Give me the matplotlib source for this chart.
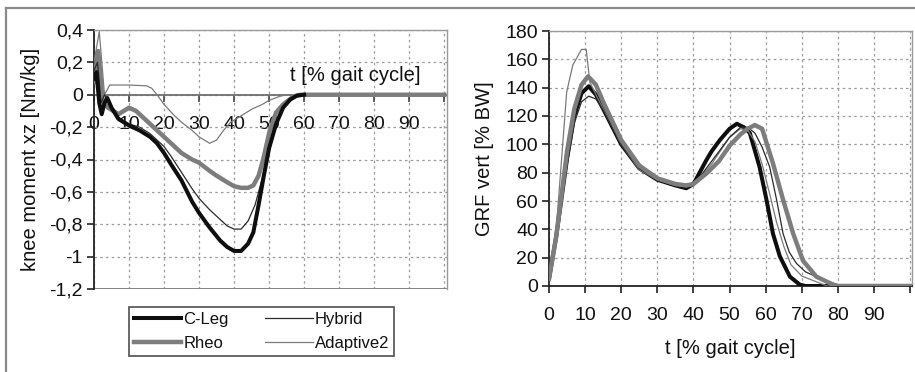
import matplotlib
matplotlib.use("Agg")
import matplotlib.pyplot as plt
from matplotlib.lines import Line2D
from matplotlib.ticker import FixedLocator

plt.rcParams['font.family'] = ['Liberation Sans', 'DejaVu Sans']

# ---------------- data: knee moment ----------------
t_cleg_knee = [0, 0.7, 1.5, 2.2, 3, 3.8, 5, 7, 10, 13, 16, 18, 20, 22, 25, 28, 30, 33, 36, 38,
               40, 42, 44, 45.5, 47, 48.5, 50, 52, 54, 56, 58, 60]
v_cleg_knee = [0.10, 0.14, -0.05, -0.12, -0.05, -0.02, -0.08, -0.15, -0.19, -0.22, -0.26, -0.30,
               -0.36, -0.43, -0.53, -0.66, -0.73, -0.82, -0.90, -0.94, -0.965, -0.965, -0.92,
               -0.85, -0.68, -0.50, -0.33, -0.18, -0.08, -0.03, -0.005, 0]

t_hyb_knee = [0, 1, 2, 3, 5, 7, 10, 13, 16, 20, 22, 25, 28, 30, 33, 36, 38, 40, 42, 44, 46, 48,
              50, 52, 54, 56, 58, 60]
v_hyb_knee = [0.15, 0.2, -0.05, 0.0, -0.08, -0.14, -0.18, -0.20, -0.24, -0.32, -0.38, -0.48,
              -0.58, -0.64, -0.71, -0.77, -0.81, -0.83, -0.83, -0.78, -0.68, -0.52, -0.33,
              -0.18, -0.08, -0.03, -0.01, 0]

t_rheo_knee = [0, 1.2, 2.5, 4, 7, 10, 12, 15, 18, 20, 22, 25, 28, 30, 33, 35, 38, 40, 42, 44,
               45.5, 47, 48.3, 50.2, 52, 54, 57, 59, 100]
v_rheo_knee = [0.08, 0.27, -0.04, -0.08, -0.12, -0.08, -0.10, -0.16, -0.22, -0.26, -0.30,
               -0.36, -0.40, -0.42, -0.47, -0.50, -0.54, -0.565, -0.575, -0.575, -0.56,
               -0.50, -0.40, -0.22, -0.11, -0.06, -0.01, 0, 0]

t_ad2_knee = [0, 1.5, 3, 4.5, 10, 15, 16.5, 18, 20, 23, 25, 28, 30, 33, 35, 37, 39, 42, 45, 48,
              50, 53, 55]
v_ad2_knee = [0.2, 0.39, 0.0, 0.06, 0.06, 0.055, 0.04, 0.0, -0.06, -0.13, -0.17, -0.22, -0.26,
              -0.30, -0.28, -0.22, -0.17, -0.13, -0.09, -0.06, -0.035, -0.01, 0]

# ---------------- data: vertical GRF ----------------
t_cleg_grf = [0, 2, 5, 7, 9, 11, 13, 15, 20, 25, 30, 35, 38, 40, 43.6, 45, 47.3, 50, 52, 54,
              55.6, 58.3, 60.2, 62, 63.9, 66.7, 69.4, 71, 100]
v_cleg_grf = [5, 35, 90, 120, 136, 141, 135, 125, 100, 83, 75, 71, 69, 72, 89, 95, 103, 111,
              114.5, 112, 108, 84, 61, 37, 21, 6.6, 1, 0, 0]

t_hyb_grf = [0, 2, 5, 7, 9, 11, 13, 15, 20, 25, 30, 35, 38, 40, 45, 50, 53, 55, 57, 59, 61.1,
             63, 64.8, 66.5, 68.5, 71, 74, 78.6, 81, 100]
v_hyb_grf = [5, 33, 85, 115, 130, 134, 132, 124, 100, 83, 75, 71, 70, 71, 88, 105, 112, 112,
             108, 98, 84, 61, 37, 24, 16, 10, 6.6, 2, 0, 0]

t_rheo_grf = [0, 2, 5, 7, 9, 10.8, 13, 15, 20, 25, 30, 35, 38, 40, 43.6, 47, 50, 53, 55, 57,
              59, 62, 64.8, 67.6, 70.3, 74, 78.6, 80, 100]
v_rheo_grf = [5, 35, 95, 125, 142, 148, 142, 130, 103, 85, 76, 72, 71, 72, 79.5, 88, 99, 107,
              111, 113.6, 111, 86.6, 61, 37, 18, 6.6, 1, 0, 0]

t_ad2_grf = [0, 2, 4.9, 6.6, 9, 10.3, 11.3, 13, 15, 20, 25, 30, 35, 38, 40, 45, 50, 53, 55, 57,
             59, 61, 63, 65, 67, 70, 74, 77, 100]
v_ad2_grf = [5, 40, 137, 156, 167, 167, 144, 135, 125, 100, 82, 75, 71, 70, 71, 86, 105, 111,
             110, 102, 86, 66, 45, 28, 15, 7, 3, 0, 0]

series_names = ['C-Leg', 'Rheo', 'Hybrid', 'Adaptive2']
x_ticks = [0, 10, 20, 30, 40, 50, 60, 70, 80, 90, 100]
x_ticklabels = ['0', '10', '20', '30', '40', '50', '60', '70', '80', '90', '']
knee_ticks = [-1.2, -1.0, -0.8, -0.6, -0.4, -0.2, 0.0, 0.2, 0.4]
knee_ticklabels = ['-1,2', '-1', '-0,8', '-0,6', '-0,4', '-0,2', '0', '0,2', '0,4']
grf_ticks = [0, 20, 40, 60, 80, 100, 120, 140, 160, 180]

styles = {
    'C-Leg': dict(color='#0e0e0e', lw=2.9),
    'Rheo': dict(color='#7d7d7d', lw=3.2),
    'Hybrid': dict(color='#2a2a2a', lw=0.9),
    'Adaptive2': dict(color='#7a7a7a', lw=0.9),
}

TXT = '#111111'
GRID = dict(color='#9a9a9a', lw=0.9, ls=(0, (2.0, 2.6)))
FS_TICK = 14
FS_LAB = 14.5

fig = plt.figure(figsize=(9.15, 3.72), dpi=100)

# ---------------- left panel ----------------
ax1 = fig.add_axes([94 / 915, 1 - 289 / 372, (447 - 94) / 915, (289 - 30) / 372])
ax1.plot(t_rheo_knee, v_rheo_knee, **styles['Rheo'], zorder=3)
ax1.plot(t_ad2_knee, v_ad2_knee, **styles['Adaptive2'], zorder=4)
ax1.plot(t_hyb_knee, v_hyb_knee, **styles['Hybrid'], zorder=5)
ax1.plot(t_cleg_knee, v_cleg_knee, **styles['C-Leg'], zorder=6)
ax1.set_xlim(0, 100.8)
ax1.set_ylim(-1.2, 0.4)
ax1.yaxis.set_major_locator(FixedLocator(knee_ticks))
ax1.set_yticklabels(knee_ticklabels)
ax1.set_xticks(x_ticks)
ax1.set_xticklabels(x_ticklabels)
ax1.grid(True, **GRID)
ax1.set_axisbelow(True)
ax1.spines['bottom'].set_position(('data', 0))
ax1.spines['bottom'].set_color('#6e6e6e')
ax1.spines['bottom'].set_linewidth(1.3)
ax1.spines['bottom'].set_zorder(2)
for s in ['top', 'right']:
    ax1.spines[s].set_color('#9a9a9a')
    ax1.spines[s].set_linewidth(1.0)
ax1.spines['left'].set_color('#222222')
ax1.spines['left'].set_linewidth(1.3)
ax1.axhline(-1.2, color='#7a7a7a', lw=1.3, zorder=2)
ax1.tick_params(axis='x', direction='out', length=5, width=1.2, color='#444444',
                labelsize=FS_TICK, labelcolor=TXT, pad=10)
ax1.tick_params(axis='y', direction='out', length=5, width=1.2, color='#222222',
                labelsize=FS_TICK, labelcolor=TXT, pad=3)
ax1.set_ylabel('knee moment xz [Nm/kg]', fontsize=FS_LAB, color=TXT, labelpad=7)
ax1.text(74.5, 0.117, 't [% gait cycle]', fontsize=FS_LAB, color=TXT,
         ha='center', va='center')

# ---------------- right panel ----------------
ax2 = fig.add_axes([549 / 915, 1 - 286 / 372, (912 - 549) / 915, (286 - 31) / 372])
ax2.plot(t_cleg_grf, v_cleg_grf, **styles['C-Leg'], zorder=3)
ax2.plot(t_ad2_grf, v_ad2_grf, **styles['Adaptive2'], zorder=4)
ax2.plot(t_hyb_grf, v_hyb_grf, **styles['Hybrid'], zorder=5)
ax2.plot(t_rheo_grf, v_rheo_grf, **styles['Rheo'], zorder=6)
ax2.set_xlim(0, 100.5)
ax2.set_ylim(0, 180)
ax2.set_yticks(grf_ticks)
ax2.set_xticks(x_ticks)
ax2.set_xticklabels(x_ticklabels)
ax2.grid(True, **GRID)
ax2.set_axisbelow(True)
for s in ['top', 'right']:
    ax2.spines[s].set_color('#9a9a9a')
    ax2.spines[s].set_linewidth(1.0)
for s in ['left', 'bottom']:
    ax2.spines[s].set_color('#222222')
    ax2.spines[s].set_linewidth(1.3)
ax2.tick_params(axis='both', direction='out', length=5, width=1.2, color='#222222',
                labelsize=FS_TICK, labelcolor=TXT)
ax2.tick_params(axis='x', pad=10)
ax2.tick_params(axis='y', pad=3)
ax2.set_ylabel('GRF vert [% BW]', fontsize=FS_LAB, color=TXT, labelpad=8)
ax2.set_xlabel('t [% gait cycle]', fontsize=FS_LAB, color=TXT, labelpad=11)

# ---------------- legend ----------------
handles = [Line2D([], [], **styles[n]) for n in series_names]
leg = fig.legend(handles, series_names, ncol=2, loc='center',
                 bbox_to_anchor=(261.5 / 915, 1 - 331.5 / 372),
                 fontsize=12, frameon=True, fancybox=False, handlelength=2.85,
                 handletextpad=0.12, columnspacing=2.2, labelspacing=0.55,
                 borderpad=0.3, borderaxespad=0)
leg.get_frame().set_edgecolor('#222222')
leg.get_frame().set_linewidth(1.2)
for txt in leg.get_texts():
    txt.set_color(TXT)

# ---------------- outer frame ----------------
fig.add_artist(Line2D([6 / 915, 1.0], [1 - 8 / 372, 1 - 8 / 372], transform=fig.transFigure,
                      color='#8a8a8a', lw=1.6))
fig.add_artist(Line2D([6 / 915, 6 / 915], [0, 1 - 8 / 372], transform=fig.transFigure,
                      color='#8a8a8a', lw=1.6))

fig.savefig('out.png', dpi=100)
